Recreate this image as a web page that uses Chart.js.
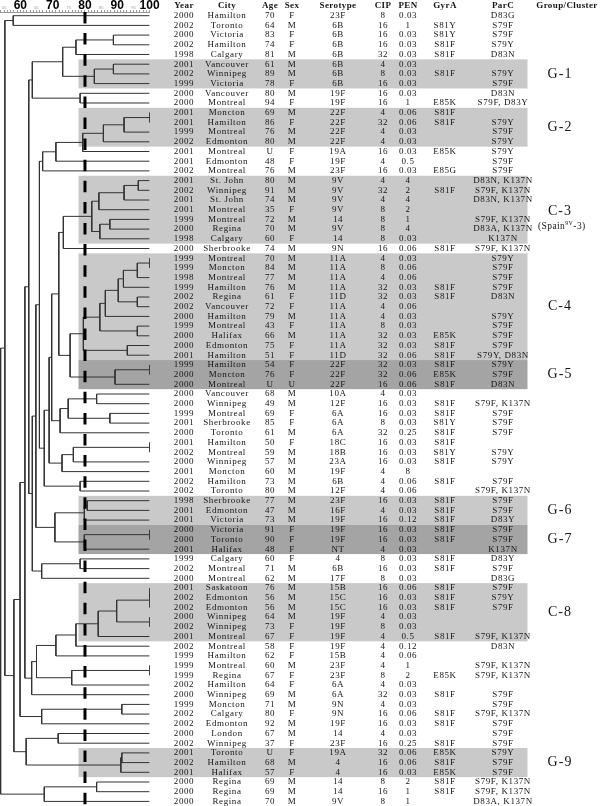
<!DOCTYPE html>
<html lang="en">
<head>
  <meta charset="UTF-8">
  <title>PFGE dendrogram</title>
  <script src="https://cdn.jsdelivr.net/npm/chart.js@4.4.1/dist/chart.umd.min.js"></script>
  <style>
    body { margin: 0; background: #fff; }
    #chart { display: block; }
  </style>
</head>
<body>
  <canvas id="chart" width="600" height="806"></canvas>

  <script>
    // isolate table, top to bottom
    const years = [2000, 2002, 2000, 2002, 1998, 2001, 2002, 1999, 2000, 2000,
      2001, 2001, 1999, 2002, 2001, 2001, 2002, 2001, 2002, 2001,
      2001, 1999, 2000, 1998, 2000, 1999, 1999, 1998, 1999, 2002,
      2002, 2000, 1999, 2000, 2000, 2001, 1999, 2000, 2000, 2000,
      2000, 1999, 2001, 2000, 2001, 2002, 2000, 2001, 2002, 2002,
      1998, 2001, 2001, 2000, 2000, 2001, 1999, 2002, 2000, 2001,
      2002, 2002, 2000, 2002, 2001, 2002, 1999, 1999, 1999, 2002,
      2000, 1999, 2002, 2002, 2000, 2002, 2001, 2002, 2001, 2000,
      2000, 2000];
    const cities = ['Hamilton', 'Toronto', 'Victoria', 'Hamilton', 'Calgary', 'Vancouver', 'Winnipeg', 'Victoria', 'Vancouver', 'Montreal',
      'Moncton', 'Hamilton', 'Montreal', 'Edmonton', 'Montreal', 'Edmonton', 'Montreal', 'St. John', 'Winnipeg', 'St. John',
      'Montreal', 'Montreal', 'Regina', 'Calgary', 'Sherbrooke', 'Montreal', 'Moncton', 'Montreal', 'Hamilton', 'Regina',
      'Vancouver', 'Hamilton', 'Montreal', 'Halifax', 'Edmonton', 'Hamilton', 'Hamilton', 'Moncton', 'Montreal', 'Vancouver',
      'Winnipeg', 'Montreal', 'Sherbrooke', 'Toronto', 'Hamilton', 'Montreal', 'Winnipeg', 'Moncton', 'Hamilton', 'Toronto',
      'Sherbrooke', 'Edmonton', 'Victoria', 'Victoria', 'Toronto', 'Halifax', 'Calgary', 'Montreal', 'Montreal', 'Saskatoon',
      'Edmonton', 'Edmonton', 'Winnipeg', 'Winnipeg', 'Montreal', 'Montreal', 'Hamilton', 'Montreal', 'Regina', 'Hamilton',
      'Winnipeg', 'Moncton', 'Calgary', 'Edmonton', 'London', 'Winnipeg', 'Toronto', 'Hamilton', 'Halifax', 'Regina',
      'Regina', 'Regina'];
    const ages = ['70', '64', '83', '74', '81', '61', '89', '78', '80', '94',
      '69', '86', '76', '80', 'U', '48', '76', '80', '91', '74',
      '35', '72', '70', '60', '74', '70', '84', '77', '76', '61',
      '72', '79', '43', '66', '75', '51', '54', '76', 'U', '68',
      '49', '69', '85', '61', '50', '59', '57', '60', '73', '80',
      '77', '47', '73', '91', '90', '48', '60', '71', '62', '76',
      '56', '56', '64', '73', '67', '58', '62', '60', '67', '64',
      '69', '71', '80', '92', '67', '37', 'U', '68', '57', '69',
      '69', '70'];
    const sexes = ['F', 'M', 'F', 'F', 'M', 'M', 'M', 'F', 'M', 'F',
      'M', 'F', 'M', 'M', 'F', 'F', 'M', 'M', 'M', 'M',
      'F', 'M', 'M', 'F', 'M', 'M', 'M', 'M', 'M', 'F',
      'F', 'M', 'F', 'M', 'F', 'F', 'F', 'F', 'U', 'M',
      'M', 'F', 'F', 'M', 'F', 'M', 'M', 'M', 'M', 'M',
      'M', 'M', 'M', 'F', 'F', 'F', 'F', 'M', 'M', 'M',
      'M', 'M', 'M', 'F', 'F', 'F', 'F', 'M', 'F', 'F',
      'M', 'M', 'F', 'M', 'M', 'F', 'F', 'M', 'F', 'M',
      'M', 'M'];
    const serotypes = ['23F', '6B', '6B', '6B', '6B', '6B', '6B', '6B', '19F', '19F',
      '22F', '22F', '22F', '22F', '19A', '19F', '23F', '9V', '9V', '9V',
      '9V', '14', '9V', '14', '9N', '11A', '11A', '11A', '11A', '11D',
      '11A', '11A', '11A', '11A', '11A', '11D', '22F', '22F', '22F', '10A',
      '12F', '6A', '6A', '6A', '18C', '18B', '23A', '19F', '6B', '12F',
      '23F', '16F', '19F', '19F', '19F', 'NT', '4', '6B', '17F', '15B',
      '15C', '15C', '19F', '19F', '19F', '19F', '15B', '23F', '23F', '6A',
      '6A', '9N', '9N', '19F', '14', '23F', '19A', '4', '4', '14',
      '14', '9V'];
    const cip = ['8', '16', '16', '16', '32', '4', '8', '16', '16', '16',
      '4', '32', '4', '4', '16', '4', '16', '4', '32', '4',
      '8', '8', '8', '8', '16', '4', '8', '4', '32', '32',
      '4', '4', '8', '32', '32', '32', '32', '32', '16', '4',
      '16', '16', '8', '32', '16', '16', '16', '4', '4', '4',
      '16', '4', '16', '16', '16', '4', '8', '16', '8', '16',
      '16', '16', '4', '8', '4', '4', '4', '4', '8', '4',
      '32', '4', '16', '16', '4', '16', '32', '16', '16', '8',
      '16', '8'];
    const pen = ['0.03', '1', '0.03', '0.03', '0.03', '0.03', '0.03', '0.03', '0.03', '1',
      '0.06', '0.06', '0.03', '0.03', '0.03', '0.5', '0.03', '4', '2', '4',
      '2', '1', '4', '0.03', '0.06', '0.03', '0.06', '0.06', '0.03', '0.03',
      '0.06', '0.03', '0.03', '0.03', '0.03', '0.06', '0.03', '0.06', '0.06', '0.03',
      '0.03', '0.03', '0.03', '0.25', '0.03', '0.03', '0.03', '8', '0.06', '0.06',
      '0.03', '0.03', '0.12', '0.03', '0.03', '0.03', '0.03', '0.03', '0.03', '0.06',
      '0.03', '0.03', '0.03', '0.03', '0.5', '0.12', '0.06', '1', '2', '0.03',
      '0.03', '0.03', '0.06', '0.03', '0.03', '0.25', '0.06', '0.06', '0.03', '2',
      '1', '1'];
    const gyrA = ['', 'S81Y', 'S81Y', 'S81F', 'S81F', '', 'S81F', '', '', 'E85K',
      'S81F', 'S81F', '', '', 'E85K', '', 'E85G', '', 'S81F', '',
      '', '', '', '', 'S81F', '', '', '', 'S81F', 'S81F',
      '', '', '', 'E85K', 'S81F', 'S81F', 'S81F', 'E85K', 'S81F', '',
      'S81F', 'S81F', 'S81Y', 'S81F', 'S81F', 'S81Y', 'S81F', '', 'S81F', '',
      'S81F', 'S81F', 'S81F', 'S81F', 'S81F', '', 'S81F', 'S81F', '', 'S81F',
      'S81F', 'S81F', '', '', 'S81F', '', '', '', 'E85K', '',
      'S81F', '', 'S81F', 'S81F', '', 'S81F', 'E85K', 'S81F', 'E85K', 'S81F',
      'S81F', ''];
    const parC = ['D83G', 'S79F', 'S79F', 'S79Y', 'D83N', '', 'S79Y', 'S79F', 'D83N', 'S79F, D83Y',
      '', 'S79Y', 'S79F', 'S79Y', 'S79Y', 'S79F', 'S79F', 'D83N, K137N', 'S79F, K137N', 'D83N, K137N',
      '', 'S79F, K137N', 'D83A, K137N', 'K137N', 'S79F, K137N', 'S79Y', 'S79F', 'S79F', 'S79F', 'D83N',
      '', 'S79Y', 'S79F', 'S79F', 'S79F', 'S79Y, D83N', 'S79Y', 'S79F', 'D83N', '',
      'S79F, K137N', 'S79F', 'S79F', 'S79F', '', 'S79Y', 'S79Y', '', 'S79F', 'S79F, K137N',
      'S79F', 'S79F', 'D83Y', 'S79F', 'S79F', 'K137N', 'D83Y', 'S79F', 'D83G', 'S79F',
      'S79Y', 'S79F', '', '', 'S79F, K137N', 'D83N', '', 'S79F, K137N', 'S79F, K137N', '',
      'S79F', 'S79F', 'S79F, K137N', 'S79F', 'S79F', 'S79F', 'S79Y', 'S79F', 'S79F', 'S79F, K137N',
      'S79F, K137N', 'D83A, K137N'];

    // dendrogram, hclust style: negative = isolate row, positive = earlier merge
    const merges = [
      [-1, -2], [-3, -4], [2, -5], [-6, -7], [4, -8], [3, 5], [-9, -10], [6, 7],
      [-11, -12], [9, -13], [10, -14], [11, -15], [12, -16], [13, -17],
      [-18, -19], [15, -20], [16, -21], [-22, -23], [18, -24], [17, 19], [20, -25],
      [-26, -27], [22, -28], [23, -29], [-30, -31], [24, 25], [26, -32], [-33, -34], [27, 28],
      [-35, -36], [29, 30], [-37, -38], [32, -39], [31, 33], [21, 34],
      [-40, -41], [-42, -43], [36, 37], [38, -44], [35, 39],
      [-45, -46], [41, -47], [42, -48], [40, 43], [-49, -50], [44, 45], [14, 46],
      [-51, -52], [48, -53], [-54, -55], [50, -56], [49, 51], [47, 52],
      [-57, -58], [54, -59], [53, 55], [8, 56],
      [-60, -61], [58, -62], [-63, -64], [59, 60], [61, -65], [62, -66], [63, -67],
      [-68, -69], [65, -70], [64, 66], [67, -71], [57, 68],
      [-72, -73], [70, -74], [69, 71], [-75, -76], [-77, -78], [74, -79], [73, 75],
      [72, 76], [1, 77], [-80, -81], [79, -82], [78, 80]
    ];
    const mergeHeights = [
      57.8, 88.8, 77.2, 88.8, 82.9, 73.1, 78.5, 63.7,
      100, 92.1, 85.7, 79.3, 71.0, 66.9,
      96.5, 92.1, 84.3, 87.7, 84.6, 82.1, 73.3,
      100, 96.2, 91.9, 96.2, 90.3, 86.3, 96.2, 84.6,
      93.1, 79.5, 100, 89.3, 75.4, 71.9,
      83.6, 87.7, 74.8, 72.3, 69.7,
      100, 76.4, 72.9, 68.9, 78.5, 67.4, 65.9,
      80.7, 79.8, 100, 79.8, 70.7, 64.8,
      78.5, 66.6, 63.7, 62.6,
      100, 100, 100, 89.8, 84.1, 77.2, 71.0,
      100, 75.9, 65.0, 63.5, 61.4,
      91.4, 66.6, 59.9, 71.7, 91.4, 91.1, 61.8,
      58.0, 55.2, 83.6, 67.4, 53.9
    ];
    const cutoff = 80;

    const groupNames = ['G-1', 'G-2', 'C-3', 'C-4', 'G-5', 'G-6', 'G-7', 'C-8', 'G-9'];
    const groupFirst = [6, 11, 18, 26, 37, 51, 54, 60, 77];
    const groupLast = [8, 14, 24, 36, 39, 53, 56, 65, 79];
    const groupDark = [false, false, false, false, true, false, true, false, false];

    const headers = ['Year', 'City', 'Age', 'Sex', 'Serotype', 'CIP', 'PEN', 'GyrA', 'ParC'];
    const columns = [years, cities, ages, sexes, serotypes, cip, pen, gyrA, parC];
    const columnX = [184, 227, 270, 292, 338, 383, 408, 445, 503];

    // build the bracket lines from the merge list
    const nodeY = [];
    const nodeH = [];
    const treeLines = [];
    const childAt = (c) => c < 0 ? { y: -c, h: 100 } : { y: nodeY[c - 1], h: nodeH[c - 1] };
    merges.forEach(([a, b], k) => {
      const h = mergeHeights[k];
      const A = childAt(a);
      const B = childAt(b);
      treeLines.push({ x: A.h, y: A.y }, { x: h, y: A.y }, { x: h, y: B.y }, { x: B.h, y: B.y }, { x: null, y: null });
      nodeY.push((A.y + B.y) / 2);
      nodeH.push(h);
    });

    const yMin = 0.6186;
    const yMax = 82.474;

    const bandsPlugin = {
      id: 'bands',
      beforeDatasetsDraw(chart) {
        const ctx = chart.ctx;
        const ys = chart.scales.y;
        ctx.save();
        groupNames.forEach((g, i) => {
          const top = ys.getPixelForValue(groupFirst[i] - 0.5);
          const bot = ys.getPixelForValue(groupLast[i] + 0.5);
          ctx.fillStyle = groupDark[i] ? '#a4a4a4' : '#c9c9c9';
          ctx.fillRect(78.5, top, 449, bot - top);
        });
        ctx.restore();
      }
    };

    const tablePlugin = {
      id: 'table',
      afterDraw(chart) {
        const ctx = chart.ctx;
        const ys = chart.scales.y;
        ctx.save();
        ctx.textAlign = 'center';
        ctx.textBaseline = 'middle';
        ctx.fillStyle = '#151515';

        const headY = ys.getPixelForValue(0);
        ctx.font = 'bold 9px "Liberation Serif"';
        ctx.letterSpacing = '0.4px';
        headers.forEach((h, c) => ctx.fillText(h, columnX[c], headY));
        ctx.fillText('Group/Cluster', 567, headY);

        ctx.font = '9px "Liberation Serif"';
        ctx.letterSpacing = '0.6px';
        columns.forEach((col, c) => {
          col.forEach((v, r) => {
            if (v !== '') ctx.fillText(String(v), columnX[c], ys.getPixelForValue(r + 1));
          });
        });

        ctx.font = '14px "Liberation Serif"';
        ctx.letterSpacing = '1px';
        groupNames.forEach((g, i) => {
          const mid = ys.getPixelForValue((groupFirst[i] + groupLast[i]) / 2);
          if (g === 'C-3') {
            ctx.fillText(g, 560, mid + 2);
            ctx.letterSpacing = '0.4px';
            ctx.textAlign = 'left';
            let x = 538;
            ctx.font = '9.5px "Liberation Serif"';
            ctx.fillText('(Spain', x, mid + 17);
            x += ctx.measureText('(Spain').width;
            ctx.font = '6px "Liberation Serif"';
            ctx.fillText('9V', x, mid + 14);
            x += ctx.measureText('9V').width;
            ctx.font = '9.5px "Liberation Serif"';
            ctx.fillText('-3)', x, mid + 17);
            ctx.textAlign = 'center';
            ctx.font = '14px "Liberation Serif"';
            ctx.letterSpacing = '1px';
          } else {
            ctx.fillText(g, 560, mid);
          }
        });
        ctx.restore();
      }
    };

    new Chart(document.getElementById('chart'), {
      type: 'scatter',
      data: {
        datasets: [
          {
            label: 'cutoff',
            data: [{ x: cutoff, y: yMin }, { x: cutoff, y: yMax }],
            showLine: true,
            borderColor: '#000',
            borderWidth: 3,
            borderDash: [11.5, 9.6],
            pointRadius: 0
          },
          {
            label: 'tree',
            data: treeLines,
            showLine: true,
            spanGaps: false,
            borderColor: '#333',
            borderWidth: 1,
            pointRadius: 0,
            tension: 0
          }
        ]
      },
      options: {
        responsive: false,
        animation: false,
        devicePixelRatio: 1,
        layout: { padding: { left: 0, right: 450.4, top: 0, bottom: 0 } },
        plugins: { legend: { display: false }, tooltip: { enabled: false } },
        scales: {
          x: {
            type: 'linear',
            position: 'top',
            min: 53.7,
            max: 100,
            afterFit: (s) => { s.height = 12; },
            border: { display: true, color: '#999', width: 1 },
            grid: { drawOnChartArea: false, drawTicks: true, tickLength: 2, color: '#999' },
            ticks: {
              stepSize: 1,
              autoSkip: false,
              maxRotation: 0,
              padding: 0,
              callback: (v) => (v % 5 === 0 ? String(v) : ''),
              font: (c) => (c.tick && c.tick.value % 10 === 0)
                ? { family: 'Liberation Sans', size: 12, weight: 'bold', lineHeight: 0.8 }
                : { family: 'Liberation Sans', size: 4, lineHeight: 1 },
              color: (c) => (c.tick && c.tick.value % 10 === 0) ? '#000' : '#999'
            }
          },
          y: {
            type: 'linear',
            display: false,
            reverse: true,
            min: yMin,
            max: yMax
          }
        }
      },
      plugins: [bandsPlugin, tablePlugin]
    });
  </script>
</body>
</html>
